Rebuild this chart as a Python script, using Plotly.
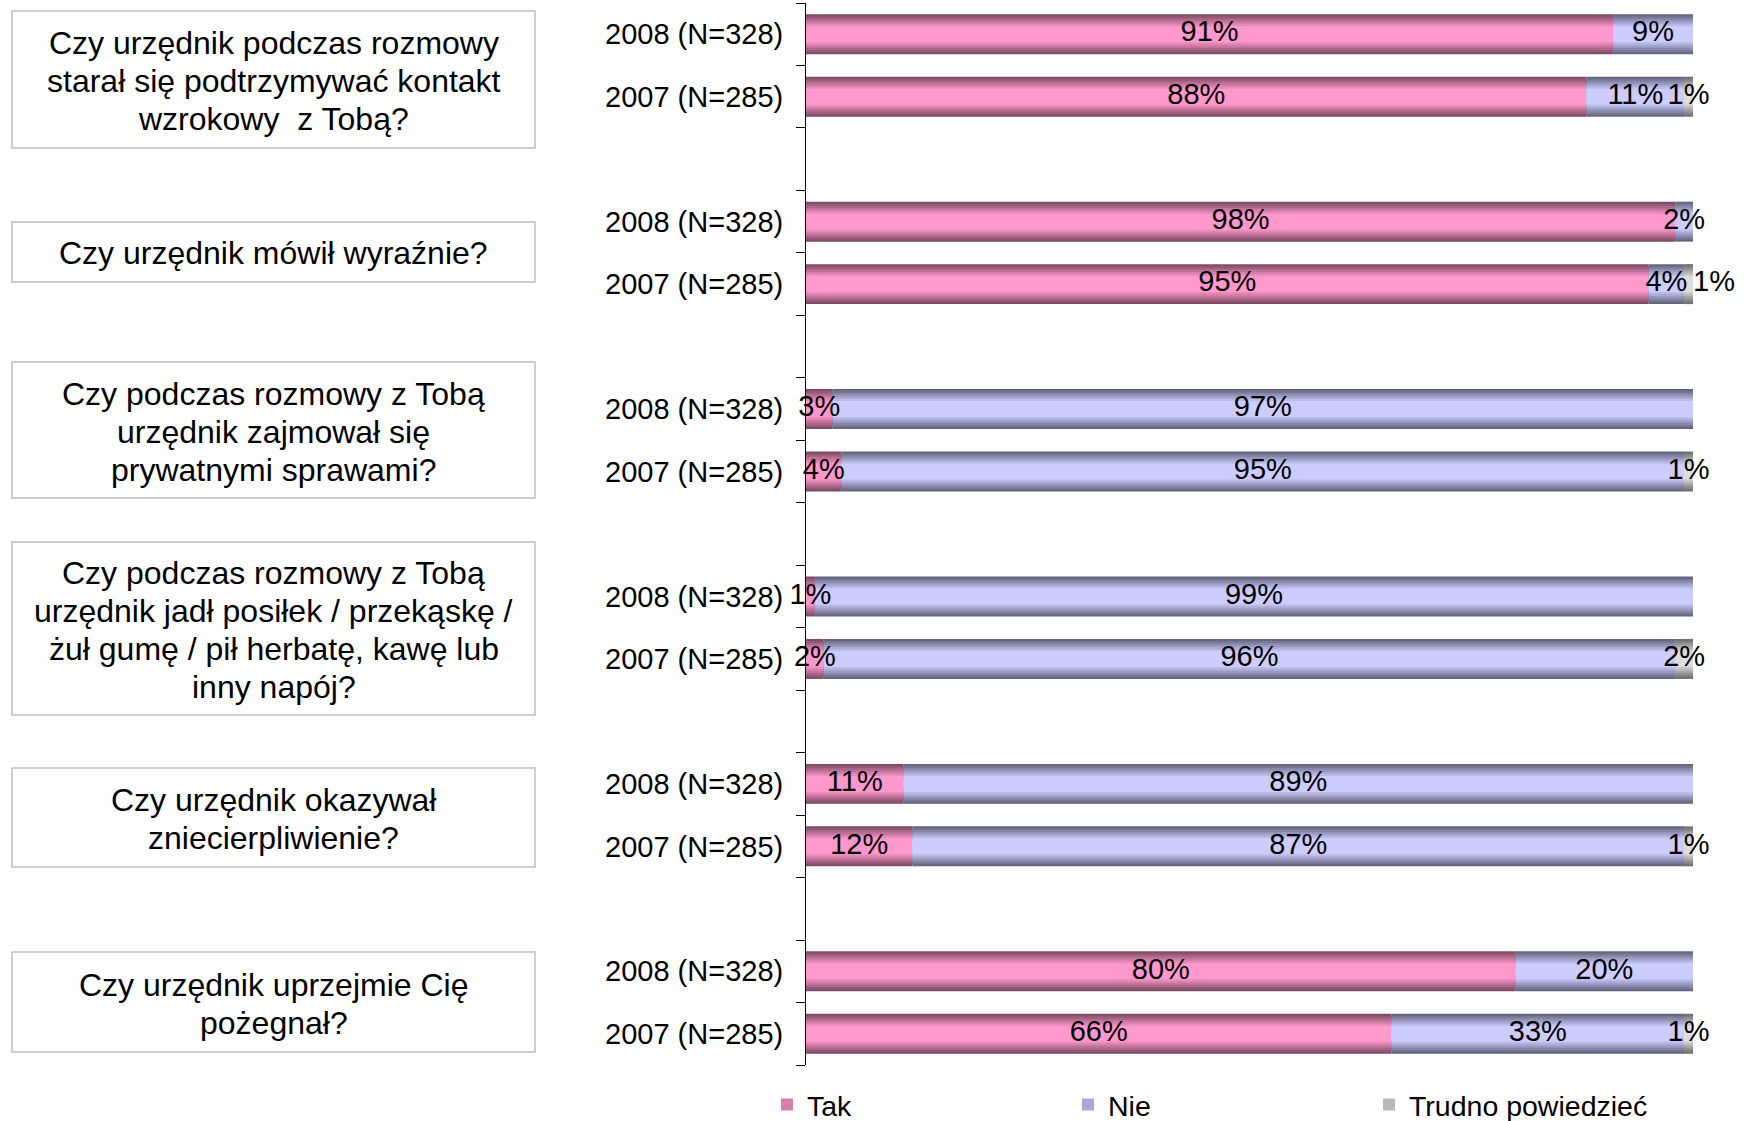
import plotly.graph_objects as go

# ---------------- data ----------------
questions = [
    ["Czy urzędnik podczas rozmowy", "starał się podtrzymywać kontakt", "wzrokowy  z Tobą?"],
    ["Czy urzędnik mówił wyraźnie?"],
    ["Czy podczas rozmowy z Tobą", "urzędnik zajmował się", "prywatnymi sprawami?"],
    ["Czy podczas rozmowy z Tobą", "urzędnik jadł posiłek / przekąskę /",
     "żuł gumę / pił herbatę, kawę lub", "inny napój?"],
    ["Czy urzędnik okazywał", "zniecierpliwienie?"],
    ["Czy urzędnik uprzejmie Cię", "pożegnał?"],
]
year_labels = ["2008 (N=328)", "2007 (N=285)"]
tak_2008 = [91, 98, 3, 1, 11, 80]
tak_2007 = [88, 95, 4, 2, 12, 66]
nie_2008 = [9, 2, 97, 99, 89, 20]
nie_2007 = [11, 4, 95, 96, 87, 33]
trudno_2008 = [0, 0, 0, 0, 0, 0]
trudno_2007 = [1, 1, 1, 2, 1, 1]
series_names = ["Tak", "Nie", "Trudno powiedzieć"]
# labels drawn just past the end of the bar instead of centred (question index, year index, series index)
outside_labels = [(1, 1, 2)]

# ---------------- layout constants ----------------
W, H = 1744, 1121
L, R, T, B = 806, 1693, 3, 1065
FONT = "'Liberation Sans', Arial, sans-serif"
edge_colors = [(0x80, 0x4C, 0x66), (0x66, 0x66, 0x80), (0x70, 0x70, 0x70)]
center_colors = [(0xFF, 0x99, 0xCC), (0xCC, 0xCC, 0xFF), (0xDD, 0xDD, 0xDD)]
BAR_W = 0.64
N_LAYERS = 10


def px_x(p):
    return (p - L) / (R - L)


def px_y(p):
    return (B - p) / (B - T)


# ---------------- rows ----------------
y_pos, ticktext, row_vals, row_keys = [], [], [], []
for g in range(len(questions)):
    per_year = [
        (tak_2008[g], nie_2008[g], trudno_2008[g]),
        (tak_2007[g], nie_2007[g], trudno_2007[g]),
    ]
    for yi in range(2):
        y_pos.append(g * 3 + yi)
        ticktext.append(year_labels[yi])
        row_vals.append(per_year[yi])
        row_keys.append((g, yi))

fig = go.Figure()

label_x, label_y, label_t, label_pos = [], [], [], []
for s, name in enumerate(series_names):
    vals = [rv[s] for rv in row_vals]
    bases = [sum(rv[:s]) for rv in row_vals]
    e, c = edge_colors[s], center_colors[s]
    for k in range(N_LAYERS):
        f = min(1.0, k / 6.0)
        col = "rgb(%d,%d,%d)" % tuple(round(e[i] + (c[i] - e[i]) * f) for i in range(3))
        fig.add_trace(go.Bar(
            orientation="h", y=y_pos, x=vals, base=bases,
            width=BAR_W * (N_LAYERS - k) / N_LAYERS,
            marker=dict(color=col, line=dict(width=0)),
            name=name, legendgroup=name, showlegend=(k == 4),
            hoverinfo="skip",
        ))
    for i, v in enumerate(vals):
        if v <= 0:
            continue
        g, yi = row_keys[i]
        if (g, yi, s) in outside_labels:
            label_x.append(bases[i] + v)
            label_pos.append("middle right")
        else:
            label_x.append(bases[i] + v / 2)
            label_pos.append("middle center")
        label_y.append(y_pos[i])
        label_t.append("%d%%" % v)

fig.add_trace(go.Scatter(
    x=label_x, y=label_y, text=label_t, mode="text", textposition=label_pos,
    textfont=dict(family=FONT, size=29, color="black"),
    showlegend=False, hoverinfo="skip", cliponaxis=False,
))

# ---------------- question boxes ----------------
boxes_px = [(12, 11, 535, 148), (12, 222, 535, 282), (12, 362, 535, 498),
            (12, 542, 535, 715), (12, 768, 535, 867), (12, 952, 535, 1052)]
LINE_H = 38
for (x0, y0, x1, y1), lines in zip(boxes_px, questions):
    fig.add_shape(type="rect", xref="paper", yref="paper",
                  x0=px_x(x0), x1=px_x(x1), y0=px_y(y0), y1=px_y(y1),
                  line=dict(color="#C0C0C0", width=1.5), fillcolor="white", layer="below")
    cy = (y0 + y1) / 2 + 1.5
    n = len(lines)
    for i, ln in enumerate(lines):
        yy = cy + (i - (n - 1) / 2) * LINE_H
        fig.add_annotation(xref="paper", yref="paper", x=px_x((x0 + x1) / 2), y=px_y(yy),
                           text=ln, showarrow=False, xanchor="center", yanchor="middle",
                           font=dict(family=FONT, size=32, color="black"))

fig.update_layout(
    width=W, height=H,
    margin=dict(l=L, r=W - R, t=T, b=H - B, autoexpand=False),
    barmode="overlay",
    plot_bgcolor="white", paper_bgcolor="white",
    font=dict(family=FONT, color="black"),
    showlegend=True,
    legend=dict(orientation="h", x=px_x(767), xanchor="left", y=px_y(1105), yanchor="middle",
                font=dict(family=FONT, size=28.5, color="black"),
                entrywidth=256, entrywidthmode="pixels", bgcolor="rgba(0,0,0,0)",
                traceorder="normal"),
)
fig.update_xaxes(range=[0, 100], visible=False, showgrid=False, zeroline=False)
fig.update_yaxes(
    range=[16.5, -0.5], tickmode="array", tickvals=y_pos, ticktext=ticktext,
    ticks="", showline=True, linecolor="black", linewidth=1,
    showgrid=False, zeroline=False,
    tickfont=dict(family=FONT, size=29, color="black"),
    ticklabelstandoff=16,
    minor=dict(tickmode="linear", tick0=-0.5, dtick=1, ticks="outside",
               ticklen=9, tickcolor="black", tickwidth=1, showgrid=False),
)

fig.write_html("out.html")
